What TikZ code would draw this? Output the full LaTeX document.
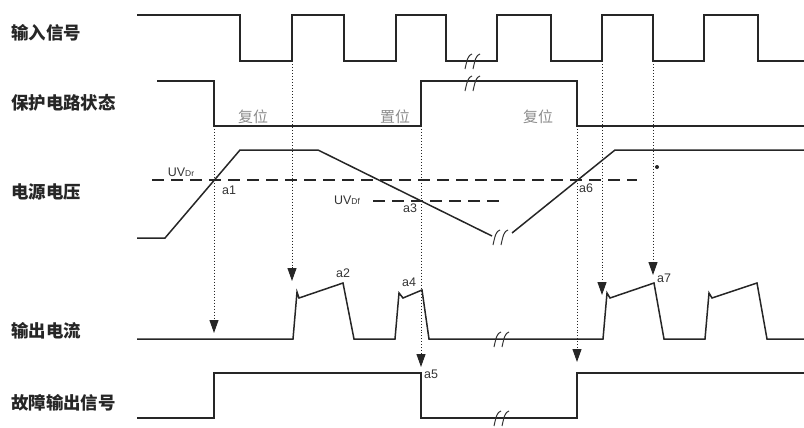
\documentclass[tikz,border=0pt]{standalone}
\usepackage{fontspec}
\setmainfont{Liberation Sans}
\newfontfamily\cjk{Noto Sans CJK SC}
\usetikzlibrary{arrows.meta}
\tikzset{
  sig/.style={line width=1.5bp, draw=black!85, line join=miter},
  guide/.style={dotted, line width=1bp, draw=black!85},
  arr/.style={guide, -{Triangle[width=9bp,length=13bp]}},
  thr/.style={dash pattern=on 12bp off 7bp, line width=1.1bp, draw=black!85},
  rowlbl/.style={font=\cjk\bfseries\fontsize{17.5}{20}\selectfont, anchor=west, inner sep=0pt, text=black!85},
  state/.style={font=\cjk\fontsize{15}{18}\selectfont, text=black!45, inner sep=0pt},
  ptlbl/.style={font=\fontsize{12.5}{14}\selectfont, inner sep=0pt, text=black!80},
  brk/.pic={
    \draw[line width=1bp, draw=black!80] (-6,8) .. controls (-4,-1) and (-3,-6) .. (1,-7);
    \draw[line width=1bp, draw=black!80] (2,8) .. controls (4,-1) and (5,-6) .. (9,-7);
  }
}
\begin{document}
\begin{tikzpicture}[x=1bp,y=-1bp]
\useasboundingbox (0,0) rectangle (804,427);

% row labels
\node[rowlbl] (l1) at (11,33) {输入信号};
\node[rowlbl] (l2) at (11,103) {保护电路状态};
\node[rowlbl] (l3) at (11,192) {电源电压};
\node[rowlbl] (l4) at (11,331) {输出电流};
\node[rowlbl] (l5) at (11,403) {故障输出信号};

% input signal
\draw[sig] (137,15) -- (240,15) -- (240,61) -- (292,61) -- (292,15) -- (344,15) -- (344,61) -- (396,61) -- (396,15) -- (446,15) -- (446,61) -- (497,61) -- (497,15) -- (551,15) -- (551,61) -- (602,61) -- (602,15) -- (653,15) -- (653,61) -- (704,61) -- (704,15) -- (758,15) -- (758,61) -- (804,61);

% protection circuit state
\draw[sig] (157,81) -- (214,81) -- (214,126) -- (421,126) -- (421,81) -- (577,81) -- (577,126) -- (804,126);
\node[state] (r1) at (253,117) {复位};
\node[state] (r2) at (395,117) {置位};
\node[state] (r3) at (538,117) {复位};

% supply voltage
\draw[thr] (152,180) -- (637,180);
\draw[thr] (373,201) -- (500,201);
\draw[sig] (137,238) -- (165,238) -- (240,150) -- (318,150) -- (492,236);
\draw[sig] (512,233) -- (615,150) -- (804,150);
\node[ptlbl] (uvr) at (181,172) {UV{\fontsize{8.5}{9}\selectfont Dr}};
\node[ptlbl] (uvf) at (347,200) {UV{\fontsize{8.5}{9}\selectfont Df}};
\node[ptlbl] (a1) at (229,190) {a1};
\node[ptlbl] (a3) at (410,208) {a3};
\node[ptlbl] (a6) at (586,188) {a6};
\fill[black!85] (657,167) circle (2bp);

% output current
\draw[sig] (137,339) -- (293,339) -- (297,292) -- (299,298) -- (343,283) -- (354,339) -- (395,339) -- (399,293) -- (403,298) -- (422,290) -- (429,339) -- (603,339) -- (607,293) -- (610,298) -- (654,283) -- (664,339) -- (705,339) -- (709,293) -- (712,298) -- (757,283) -- (767,339) -- (804,339);
\node[ptlbl] (a2) at (343,273) {a2};
\node[ptlbl] (a4) at (409,282) {a4};
\node[ptlbl] (a7) at (664,278) {a7};

% fault output
\draw[sig] (137,418) -- (214,418) -- (214,373) -- (421,373) -- (421,418) -- (577,418) -- (577,373) -- (804,373);
\node[ptlbl] (a5) at (431,374) {a5};

% break marks
\pic at (471,61) {brk};
\pic at (471,83) {brk};
\pic at (499,237) {brk};
\pic at (500,339) {brk};
\pic at (500,418) {brk};

% dotted guide arrows
\coordinate (s1) at (214,126); \coordinate (e1) at (214,333);
\coordinate (s2) at (292,61);  \coordinate (e2) at (292,281);
\coordinate (s3) at (421,126); \coordinate (e3) at (421,367);
\coordinate (s4) at (577,126); \coordinate (e4) at (577,362);
\coordinate (s5) at (602,61);  \coordinate (e5) at (602,295);
\coordinate (s6) at (653,61);  \coordinate (e6) at (653,275);
\draw[arr] (s1) -- (e1);
\draw[arr] (s2) -- (e2);
\draw[arr] (s3) -- (e3);
\draw[arr] (s4) -- (e4);
\draw[arr] (s5) -- (e5);
\draw[arr] (s6) -- (e6);
\end{tikzpicture}
\end{document}
